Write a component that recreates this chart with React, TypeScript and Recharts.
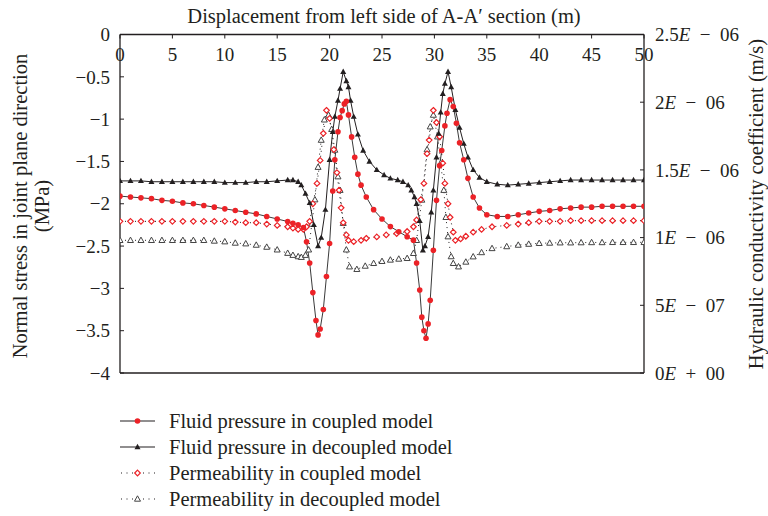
import React from 'react'
import { LineChart, Line, XAxis, YAxis, ReferenceLine } from 'recharts'

// x positions (m) and fluid pressure (MPa), coupled model
const fpCoupledX = [0, 1, 2, 3, 4, 5, 6, 7, 8, 9, 10, 11, 12, 13, 14, 15, 16, 16.5, 17, 17.5, 17.8, 18.1, 18.4, 18.7, 18.9, 19.1, 19.4, 19.7, 20.0, 20.3, 20.5, 20.8, 21.0, 21.2, 21.4, 21.6, 21.8, 22.1, 22.4, 22.7, 23.0, 23.5, 24.2, 25.0, 25.8, 26.6, 27.4, 28.0, 28.3, 28.6, 28.8, 29.0, 29.2, 29.4, 29.6, 29.9, 30.2, 30.5, 30.7, 31.0, 31.2, 31.5, 31.8, 32.1, 32.4, 32.8, 33.2, 33.7, 34.3, 35.0, 36, 37, 38, 39, 40, 41, 42, 43, 44, 45, 46, 47, 48, 49, 50]
const fpCoupled = [-1.91, -1.92, -1.93, -1.94, -1.96, -1.97, -1.99, -2.0, -2.02, -2.04, -2.06, -2.08, -2.1, -2.12, -2.15, -2.18, -2.21, -2.23, -2.25, -2.28, -2.45, -2.7, -3.05, -3.38, -3.55, -3.48, -3.25, -2.86, -2.47, -1.85, -1.48, -1.15, -0.98, -0.9, -0.82, -0.79, -0.95, -1.21, -1.45, -1.65, -1.78, -1.92, -2.07, -2.18, -2.27, -2.33, -2.39, -2.43, -2.7, -3.02, -3.34, -3.5, -3.59, -3.42, -3.14, -2.55, -1.96, -1.55, -1.37, -1.08, -0.93, -0.77, -0.85, -1.05, -1.28, -1.48, -1.7, -1.92, -2.05, -2.13, -2.15, -2.15, -2.13, -2.11, -2.09, -2.08, -2.06, -2.05, -2.04, -2.04, -2.03, -2.03, -2.03, -2.03, -2.03]

// fluid pressure (MPa), decoupled model
const fpDecoupledX = [0, 1, 2, 3, 4, 5, 6, 7, 8, 9, 10, 11, 12, 13, 14, 15, 16, 16.5, 17, 17.3, 17.7, 18.1, 18.5, 18.9, 19.2, 19.6, 20.0, 20.3, 20.5, 20.8, 21.0, 21.3, 21.6, 21.8, 22.0, 22.3, 22.7, 23.2, 23.8, 24.5, 25.2, 25.8, 26.5, 27.0, 27.5, 27.8, 28.1, 28.3, 28.6, 28.9, 29.1, 29.4, 29.7, 29.9, 30.2, 30.4, 30.6, 30.8, 31.0, 31.3, 31.6, 32.0, 32.4, 32.8, 33.2, 33.7, 34.3, 35.0, 36, 37, 38, 39, 40, 41, 42, 43, 44, 45, 46, 47, 48, 49, 50]
const fpDecoupled = [-1.73, -1.73, -1.73, -1.74, -1.74, -1.74, -1.74, -1.74, -1.74, -1.74, -1.75, -1.75, -1.75, -1.74, -1.74, -1.73, -1.72, -1.72, -1.74, -1.78, -1.88, -1.99, -2.25, -2.5, -2.4, -2.07, -1.48, -1.15, -0.97, -0.78, -0.64, -0.44, -0.55, -0.62, -0.78, -0.97, -1.18, -1.37, -1.5, -1.6, -1.66, -1.7, -1.72, -1.74, -1.78, -1.84, -1.92, -2.0, -2.2, -2.55, -2.5, -2.39, -2.1, -1.84, -1.45, -1.17, -0.92, -0.7, -0.58, -0.44, -0.62, -0.89, -1.1, -1.29, -1.45, -1.6, -1.69, -1.74, -1.77, -1.78, -1.77, -1.76, -1.75, -1.74, -1.73, -1.72, -1.72, -1.72, -1.72, -1.72, -1.72, -1.72, -1.72]

// hydraulic conductivity (x 1E-06 m/s), coupled model
const kCoupledX = [0, 1, 2, 3, 4, 5, 6, 7, 8, 9, 10, 11, 12, 13, 14, 15, 16, 16.5, 17, 17.5, 17.8, 18.1, 18.4, 18.8, 19.1, 19.4, 19.7, 20.0, 20.4, 20.7, 20.9, 21.1, 21.3, 21.6, 21.8, 22.3, 23.0, 23.5, 24.5, 25.4, 26.4, 27.4, 28.0, 28.3, 28.7, 29.0, 29.3, 29.5, 29.9, 30.2, 30.5, 30.8, 31.0, 31.3, 31.5, 31.8, 32.0, 32.5, 33.0, 33.7, 34.5, 35.5, 36.9, 38, 39, 40, 41, 42, 43, 44, 45, 46, 47, 48, 49, 50]
const kCoupled = [1.12, 1.12, 1.12, 1.12, 1.12, 1.12, 1.12, 1.12, 1.12, 1.12, 1.12, 1.115, 1.11, 1.11, 1.1, 1.09, 1.08, 1.07, 1.06, 1.06, 1.08, 1.12, 1.25, 1.4, 1.57, 1.77, 1.94, 1.88, 1.65, 1.48, 1.35, 1.22, 1.11, 1.02, 0.98, 0.97, 0.98, 0.995, 1.005, 1.02, 1.03, 1.045, 1.08, 1.13, 1.28, 1.4, 1.62, 1.72, 1.94, 1.85, 1.745, 1.55, 1.4, 1.25, 1.15, 1.04, 0.98, 0.99, 1.01, 1.04, 1.06, 1.08, 1.09, 1.1, 1.11, 1.12, 1.12, 1.12, 1.125, 1.125, 1.125, 1.125, 1.125, 1.125, 1.125, 1.125]

// hydraulic conductivity (x 1E-06 m/s), decoupled model
const kDecoupledX = [0, 1, 2, 3, 4, 5, 6, 7, 8, 9, 10, 11, 12, 13, 14, 15, 16, 16.5, 17, 17.3, 17.7, 18.0, 18.3, 18.6, 18.9, 19.2, 19.5, 19.9, 20.2, 20.5, 20.8, 21.0, 21.3, 21.6, 21.9, 22.6, 23.4, 24.2, 25.0, 25.8, 26.6, 27.4, 28.0, 28.3, 28.8, 29.3, 29.6, 29.9, 30.3, 30.6, 30.9, 31.1, 31.3, 31.6, 31.8, 32.3, 33.0, 33.7, 34.5, 35.5, 36.9, 38, 39, 40, 41, 42, 43, 44, 45, 46, 47, 48, 49, 50]
const kDecoupled = [0.98, 0.98, 0.98, 0.98, 0.98, 0.98, 0.98, 0.98, 0.98, 0.975, 0.97, 0.96, 0.955, 0.945, 0.93, 0.91, 0.885, 0.87, 0.86, 0.855, 0.87, 0.91, 1.1, 1.28, 1.52, 1.72, 1.87, 1.905, 1.8, 1.647, 1.45, 1.35, 1.106, 0.91, 0.785, 0.766, 0.79, 0.81, 0.825, 0.835, 0.842, 0.847, 0.884, 0.98, 1.278, 1.65, 1.819, 1.905, 1.745, 1.55, 1.35, 1.15, 1.007, 0.86, 0.81, 0.785, 0.82, 0.859, 0.89, 0.92, 0.934, 0.945, 0.952, 0.958, 0.96, 0.962, 0.962, 0.963, 0.964, 0.964, 0.965, 0.965, 0.965, 0.965]

const xTicks = [0, 5, 10, 15, 20, 25, 30, 35, 40, 45, 50]
const leftTicks = [0, -0.5, -1, -1.5, -2, -2.5, -3, -3.5, -4]
const rightTicks = [0, 0.5, 1, 1.5, 2, 2.5]

const legendNames = [
  'Fluid pressure in coupled model',
  'Fluid pressure in decoupled model',
  'Permeability in coupled model',
  'Permeability in decoupled model',
]

const FONT = "'Liberation Serif', 'Times New Roman', serif"
const RED = '#ec2227'
const INK = '#231f20'
const TICK_SIZE = 19
const TEXT_SIZE = 20.5

const toRows = (xs: number[], ys: number[]) => xs.map((x, i) => ({ x, y: ys[i] }))

function redDot(p: any) {
  return <circle key={'rd' + p.index} cx={p.cx} cy={p.cy} r={2.8} fill={RED} stroke="none" />
}
function blackTri(p: any) {
  const { cx, cy } = p
  return (
    <polygon key={'bt' + p.index} points={`${cx},${cy - 3.2} ${cx + 3},${cy + 2.2} ${cx - 3},${cy + 2.2}`} fill={INK} />
  )
}
function redDiamond(p: any) {
  const { cx, cy } = p
  return (
    <polygon
      key={'rh' + p.index}
      points={`${cx},${cy - 2.8} ${cx + 2.8},${cy} ${cx},${cy + 2.8} ${cx - 2.8},${cy}`}
      fill="#fff"
      stroke={RED}
      strokeWidth={1.2}
    />
  )
}
function grayTri(p: any) {
  const { cx, cy } = p
  return (
    <polygon
      key={'gt' + p.index}
      points={`${cx},${cy - 3.2} ${cx + 3},${cy + 2.2} ${cx - 3},${cy + 2.2}`}
      fill="#fff"
      stroke="#444"
      strokeWidth={1}
    />
  )
}

function leftLabel(v: number) {
  return v === 0 ? '0' : '\u2212' + Math.abs(v)
}

function RightTick(props: any) {
  const { x, y, payload } = props
  const n = payload.value * 1e-6
  let mant = '0'
  let exp = 0
  if (n !== 0) {
    exp = Math.floor(Math.log10(n) + 1e-9)
    mant = String(Math.round((n / Math.pow(10, exp)) * 10) / 10)
  }
  const sign = exp < 0 ? '\u2212' : '+'
  const e = String(Math.abs(exp)).padStart(2, '0')
  return (
    <text x={x} y={y} dy="0.35em" textAnchor="start" fontFamily={FONT} fontSize={TICK_SIZE} fill={INK}>
      {mant}
      <tspan fontStyle="italic">E</tspan>
      {`\u2002${sign}\u2002${e}`}
    </text>
  )
}

function TopTick(props: any) {
  const { x, y, payload } = props
  return (
    <text x={x} y={y} dy="0.72em" textAnchor="middle" fontFamily={FONT} fontSize={TICK_SIZE} fill={INK}>
      {payload.value}
    </text>
  )
}

function legendMark(i: number, cx: number, cy: number) {
  const marks = [redDot, blackTri, redDiamond, grayTri]
  return marks[i]({ cx, cy, index: 'l' + i })
}

export default function App() {
  return (
    <div style={{ position: 'absolute', left: 0, top: 0, width: 768, height: 516, background: '#fff', overflow: 'hidden' }}>
      <LineChart width={768} height={516} margin={{ top: 34.5, right: 0, left: 0, bottom: 143 }}>
        <XAxis
          xAxisId="x"
          type="number"
          dataKey="x"
          orientation="top"
          mirror
          domain={[0, 50]}
          ticks={xTicks}
          interval={0}
          tickSize={4}
          tickMargin={9}
          tick={<TopTick />}
          axisLine={{ stroke: INK, strokeWidth: 1.3 }}
          tickLine={{ stroke: INK }}
          allowDataOverflow
        />
        <YAxis
          yAxisId="left"
          orientation="left"
          width={120}
          domain={[-4, 0]}
          ticks={leftTicks}
          interval={0}
          tickSize={-4}
          tickMargin={14}
          tickFormatter={leftLabel}
          tick={{ fontFamily: FONT, fontSize: TICK_SIZE, fill: INK }}
          axisLine={{ stroke: INK, strokeWidth: 1.3 }}
          tickLine={{ stroke: INK }}
          allowDataOverflow
        />
        <YAxis
          yAxisId="right"
          orientation="right"
          width={124}
          domain={[0, 2.5]}
          ticks={rightTicks}
          interval={0}
          tickSize={-4}
          tickMargin={15}
          tick={<RightTick />}
          axisLine={{ stroke: INK, strokeWidth: 1.3 }}
          tickLine={{ stroke: INK }}
          allowDataOverflow
        />
        <ReferenceLine xAxisId="x" yAxisId="left" y={-4} stroke={INK} strokeWidth={1.3} />
        <Line
          xAxisId="x"
          yAxisId="right"
          data={toRows(kDecoupledX, kDecoupled)}
          dataKey="y"
          stroke={INK}
          strokeWidth={1}
          strokeDasharray="1 4"
          dot={grayTri}
          isAnimationActive={false}
        />
        <Line
          xAxisId="x"
          yAxisId="right"
          data={toRows(kCoupledX, kCoupled)}
          dataKey="y"
          stroke={INK}
          strokeWidth={1}
          strokeDasharray="1 4"
          dot={redDiamond}
          isAnimationActive={false}
        />
        <Line
          xAxisId="x"
          yAxisId="left"
          data={toRows(fpDecoupledX, fpDecoupled)}
          dataKey="y"
          stroke={INK}
          strokeWidth={1}
          dot={blackTri}
          isAnimationActive={false}
        />
        <Line
          xAxisId="x"
          yAxisId="left"
          data={toRows(fpCoupledX, fpCoupled)}
          dataKey="y"
          stroke="#3a3a3a"
          strokeWidth={1}
          dot={redDot}
          isAnimationActive={false}
        />
      </LineChart>

      <svg width={768} height={516} style={{ position: 'absolute', left: 0, top: 0, pointerEvents: 'none' }}>
        <g fontFamily={FONT} fontSize={TEXT_SIZE} fill={INK}>
          <text x={384} y={23} textAnchor="middle">
            Displacement from left side of A-A{'\u2032'} section (m)
          </text>
          <text transform="translate(27,206) rotate(-90)" textAnchor="middle">
            Normal stress in joint plane direction
          </text>
          <text transform="translate(49,206) rotate(-90)" textAnchor="middle">
            (MPa)
          </text>
          <text transform="translate(763,204) rotate(-90)" textAnchor="middle">
            Hydraulic conductivity coefficient (m/s)
          </text>
        </g>
        {legendNames.map((name, i) => {
          const cy = 421 + i * 26
          return (
            <g key={name}>
              {i < 2 ? (
                <line x1={120} y1={cy} x2={155} y2={cy} stroke={INK} strokeWidth={1.2} />
              ) : (
                <line x1={121} y1={cy} x2={155} y2={cy} stroke={INK} strokeWidth={1.2} strokeDasharray="1 4.5" />
              )}
              {legendMark(i, 137.5, cy)}
              <text x={169} y={cy + 6.5} fontFamily={FONT} fontSize={TEXT_SIZE} fill={INK}>
                {name}
              </text>
            </g>
          )
        })}
      </svg>
    </div>
  )
}
